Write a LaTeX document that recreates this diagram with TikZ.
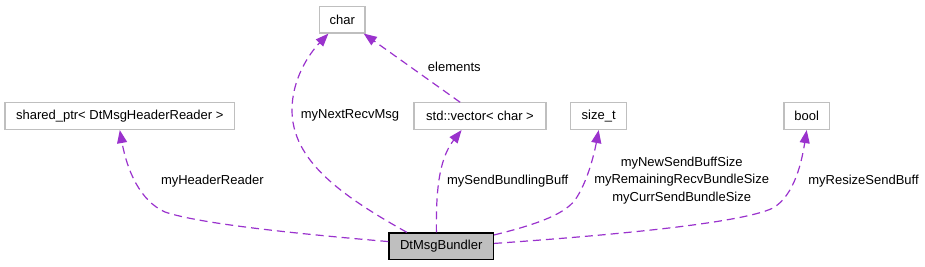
\documentclass[tikz,border=0pt]{standalone}
\usepackage{fontspec}
\setmainfont{Liberation Sans}
\usepackage{tikz}
\usetikzlibrary{arrows.meta, positioning, calc}
\usepackage{xcolor}
\definecolor{depviolet}{RGB}{154,50,205}
\definecolor{boxgray}{RGB}{191,191,191}

\begin{document}
\begin{tikzpicture}[
  x=1pt, y=-1pt,
  cls/.style={draw=boxgray, fill=white, line width=1.2pt,
              minimum height=26.6pt, inner sep=0pt,
              font=\fontsize{13pt}{16pt}\selectfont},
  self/.style={cls, draw=black, fill=boxgray},
  dep/.style={-{Triangle[length=13pt, width=10pt]}, depviolet,
              line width=1.2pt, dash pattern=on 8pt off 5pt},
  lbl/.style={font=\fontsize{13pt}{17.5pt}\selectfont, align=center, inner sep=0pt},
]
  \useasboundingbox (0,0) rectangle (925,267);

  % Classes
  \node[self, minimum width=104.5pt] (bundler) at (441.2,246.2) {DtMsgBundler};
  \node[cls, minimum width=45.5pt]  (chr)   at (342.3,19.7)  {char};
  \node[cls, minimum width=229.8pt] (shptr) at (119.8,116.2) {shared\_ptr< DtMsgHeaderReader >};
  \node[cls, minimum width=132pt]   (vec)   at (480,116.2)   {std::vector< char >};
  \node[cls, minimum width=56pt]    (sizet) at (598.7,116.2) {size\_t};
  \node[cls, minimum width=45.5pt]  (boolt) at (806.7,116.2) {bool};

  % Members
  \draw[dep] (bundler.175.5) .. controls (300,234) and (200,224) .. (165,212)
             .. controls (140,201) and (127,170) .. (shptr.south);
  \draw[dep] (bundler.158) .. controls (340,195) and (292,160) .. (292,110)
             .. controls (292,80) and (308,55) .. (chr.225);
  \draw[dep] (vec.145) -- (chr.327);
  \draw[dep] (bundler.109) .. controls (436,195) and (438,160) .. (vec.217);
  \draw[dep] (bundler.12) .. controls (530,226) and (563,216) .. (575,200)
             .. controls (587,183) and (594,155) .. (sizet.south);
  \draw[dep] (bundler.3) .. controls (600,236) and (740,224) .. (773,208)
             .. controls (795,195) and (802,160) .. (boolt.south);

  % Labels
  \node[lbl] (lhdr)    at (212.3,181)   {myHeaderReader};
  \node[lbl] (lnext)   at (350,115.5)   {myNextRecvMsg};
  \node[lbl] (lelem)   at (454.3,66.7)  {elements};
  \node[lbl] (lsend)   at (507.7,181)   {mySendBundlingBuff};
  \node[lbl] (lsize)   at (681.7,180.5)
    {myNewSendBuffSize\\myRemainingRecvBundleSize\\myCurrSendBundleSize};
  \node[lbl] (lresize) at (863.5,181)   {myResizeSendBuff};
\end{tikzpicture}
\end{document}
